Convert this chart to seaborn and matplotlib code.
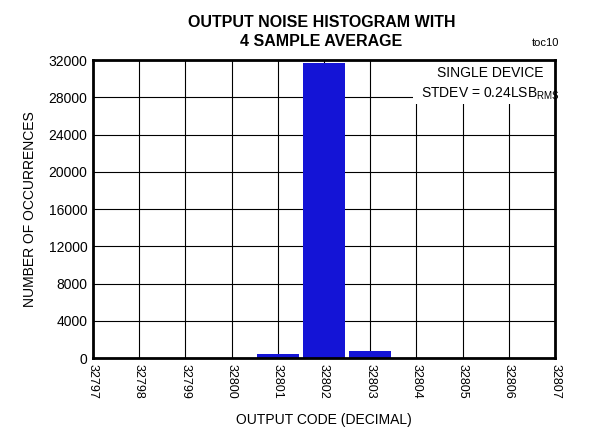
import matplotlib
matplotlib.use("Agg")
import matplotlib.pyplot as plt
import matplotlib.patches as mpatches
import seaborn as sns
import pandas as pd

codes = ["32797", "32798", "32799", "32800", "32801", "32802",
         "32803", "32804", "32805", "32806", "32807"]
counts = [0, 0, 0, 0, 500, 31700, 750, 0, 0, 0, 0]
yticks = [0, 4000, 8000, 12000, 16000, 20000, 24000, 28000, 32000]

sns.set_style("white")
plt.rcParams["font.family"] = ["Liberation Sans", "DejaVu Sans"]
plt.rcParams["text.color"] = "black"
plt.rcParams["axes.labelcolor"] = "black"
plt.rcParams["xtick.color"] = "black"
plt.rcParams["ytick.color"] = "black"

df = pd.DataFrame({"code": codes, "count": counts})

fig = plt.figure(figsize=(5.95, 4.3), dpi=100)
ax = fig.add_axes([0.156, 0.167, 0.777, 0.693])
sns.barplot(data=df, x="code", y="count", order=codes, color="#1414D6",
            saturation=1, width=0.9, ax=ax, zorder=3, linewidth=0)
ax.set_xlim(0, len(codes) - 1)
ax.set_ylim(0, 32000)
ax.set_yticks(yticks)
ax.set_yticklabels([str(v) for v in yticks], fontsize=10)
ax.set_xticks(range(len(codes)))
ax.set_xticklabels(codes, rotation=-90, fontsize=9)
ax.grid(True, color="black", linewidth=0.8, zorder=0)
ax.set_axisbelow(True)
for s in ax.spines.values():
    s.set_linewidth(2)
    s.set_color("black")
    s.set_zorder(4)
ax.tick_params(length=0, pad=4)
ax.set_xlabel("OUTPUT CODE (DECIMAL)", fontsize=10, labelpad=10)
ax.set_ylabel("NUMBER OF OCCURRENCES", fontsize=10, labelpad=8)

fig.text(0.54, 0.925, "OUTPUT NOISE HISTOGRAM WITH\n4 SAMPLE AVERAGE",
         ha="center", va="center", fontsize=11.5, fontweight="bold",
         linespacing=1.3)
fig.text(0.94, 0.9, "toc10", ha="right", va="center", fontsize=8)

ax.add_patch(mpatches.Rectangle((0.693, 0.853), 0.307, 0.147,
                                transform=ax.transAxes, facecolor="white",
                                edgecolor="none", zorder=2))
ax.text(0.86, 0.92, "SINGLE DEVICE\nSTDEV = 0.24LSB$_{\\mathregular{RMS}}$",
        transform=ax.transAxes, ha="center", va="center", fontsize=10,
        linespacing=1.4, zorder=2.2)

fig.savefig("out.png", dpi=100)
